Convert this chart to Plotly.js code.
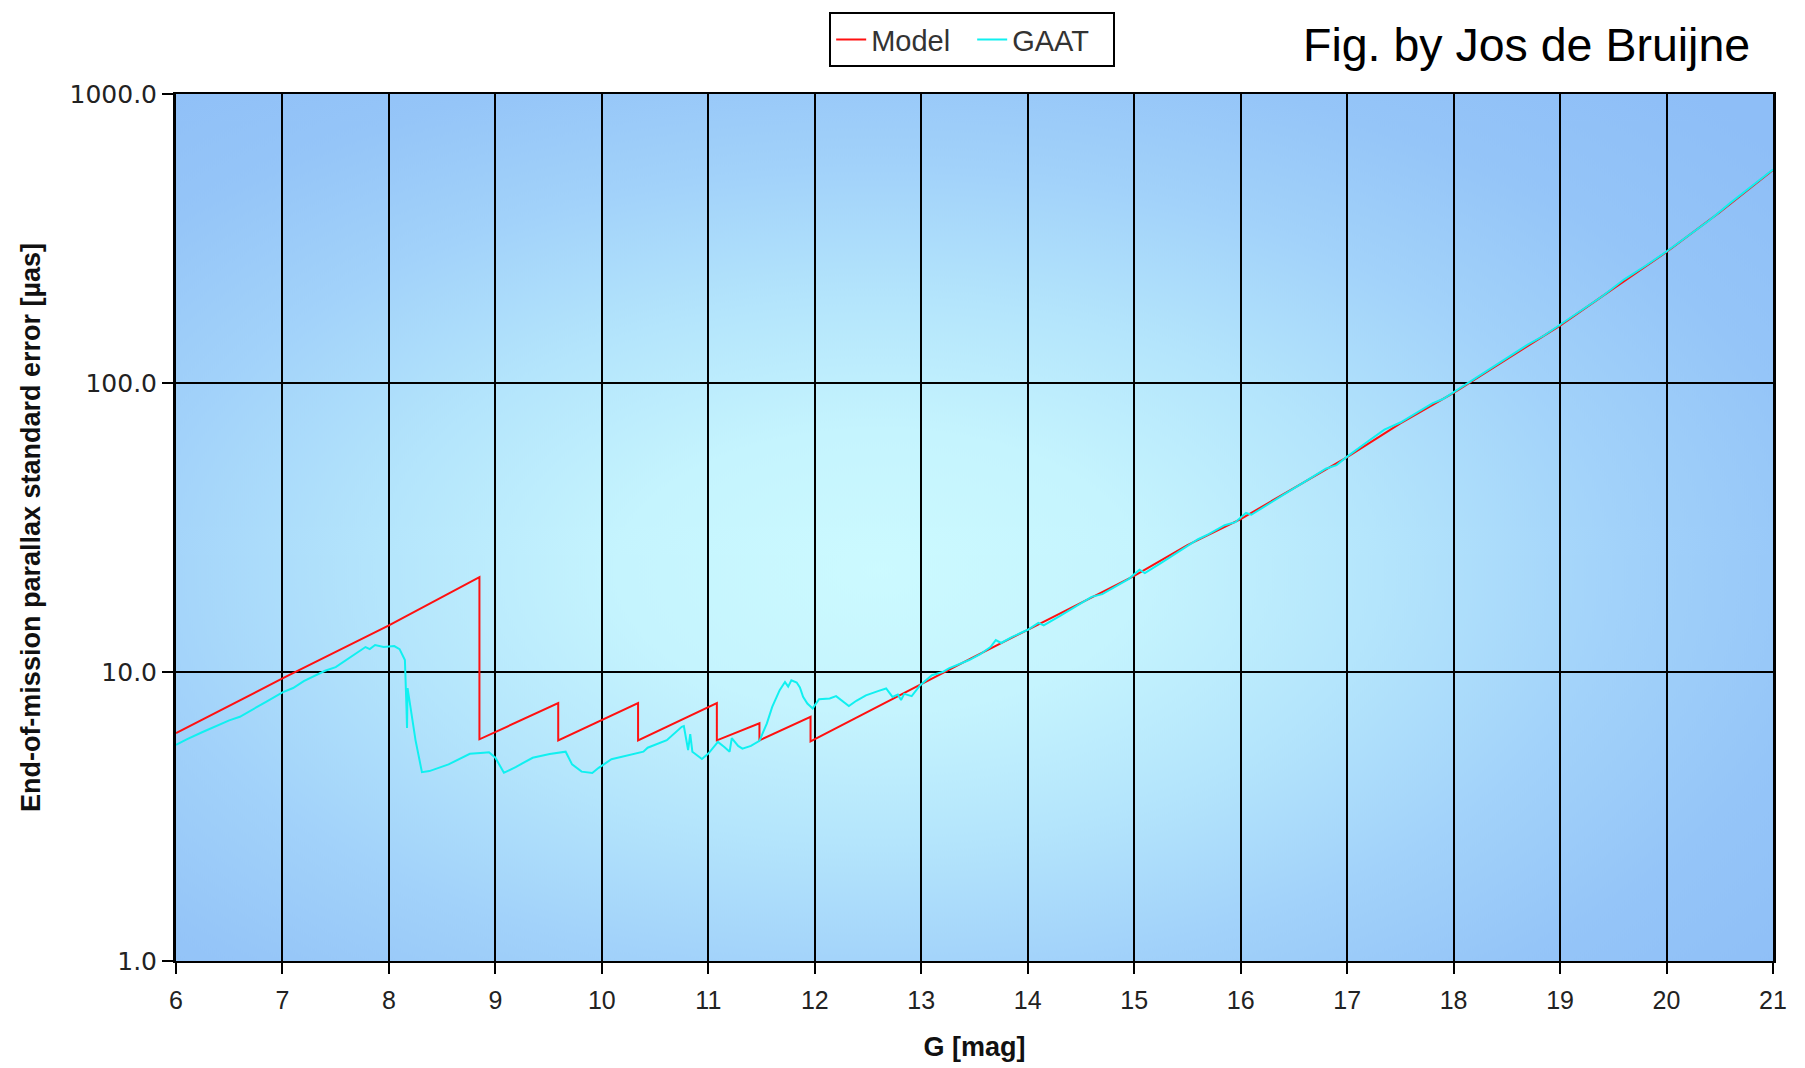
<!DOCTYPE html>
<html>
<head>
<meta charset="utf-8">
<script src="https://cdn.plot.ly/plotly-3.0.1.min.js"></script>
<style>html,body{margin:0;padding:0;background:#fff;}#chart{width:1805px;height:1068px;}</style>
</head>
<body>
<div id="chart"></div>
<script>
// ---- data ----
const modelG = [6.0, 7.0, 8.0, 8.85, 8.85, 9.59, 9.59, 10.34, 10.34, 11.08, 11.08, 11.48, 11.48, 11.96, 11.96, 12.5, 13.0,
  13.5, 14.0, 14.5, 15.0, 15.5, 16.0, 16.5, 17.0, 17.5, 18.0, 18.5, 19.0, 19.5, 20.0, 20.5, 21.0];
const modelSigma = [6.15, 9.5, 14.5, 21.3, 5.85, 7.8, 5.8, 7.8, 5.8, 7.8, 5.8, 6.65, 5.8, 7.0, 5.75, 7.3, 9.1,
  11.3, 14.0, 17.4, 21.5, 27.5, 33.8, 43.3, 55.4, 72.5, 92.5, 121, 158, 212, 284, 390, 546];

const gaatG = [6.0, 6.1, 6.25, 6.4, 6.5, 6.6, 6.75, 6.85, 7.0, 7.1, 7.2, 7.3, 7.4, 7.5, 7.6, 7.7, 7.78, 7.82, 7.87, 7.95, 8.05, 8.1, 8.13,
  8.15, 8.165, 8.17, 8.175, 8.2, 8.25, 8.31, 8.38, 8.56, 8.76, 8.89, 8.94, 9.0, 9.08, 9.19, 9.35, 9.51, 9.66, 9.72, 9.81, 9.91, 9.97,
  10.09, 10.28, 10.39, 10.43, 10.61, 10.75, 10.77, 10.81, 10.83, 10.85, 10.94, 11.0, 11.09, 11.15, 11.2, 11.22, 11.28, 11.32, 11.4, 11.48,
  11.55, 11.6, 11.67, 11.72, 11.75, 11.78, 11.83, 11.86, 11.89, 11.93, 11.98, 12.04, 12.14, 12.2, 12.26, 12.32, 12.39, 12.48, 12.6,
  12.67, 12.73, 12.78, 12.81, 12.84, 12.91, 12.99, 13.1, 13.2, 13.26, 13.35, 13.45, 13.55, 13.65, 13.7, 13.75, 13.85, 14.0, 14.1, 14.15,
  14.3, 14.45, 14.6, 14.7, 14.8, 14.95, 15.05, 15.1, 15.25, 15.4, 15.6, 15.7, 15.85, 15.95, 16.05, 16.1, 16.25, 16.4, 16.6, 16.8, 16.9,
  17.0, 17.2, 17.35, 17.5, 17.65, 17.8, 17.9, 18.0, 18.14, 18.3, 18.5, 18.7, 18.85, 19.0, 19.2, 19.4, 19.6, 19.8, 20.0, 20.2, 20.4,
  20.6, 20.8, 21.0];
const gaatSigma = [5.6, 5.85, 6.2, 6.55, 6.8, 7.0, 7.5, 7.9, 8.5, 8.8, 9.3, 9.7, 10.1, 10.4, 11.0, 11.6, 12.2, 12.0, 12.4, 12.2, 12.3, 12.0, 11.4,
  11.0, 7.5, 6.4, 8.8, 7.6, 5.8, 4.5, 4.54, 4.79, 5.21, 5.26, 5.28, 5.05, 4.48, 4.69, 5.05, 5.2, 5.3, 4.79, 4.52, 4.47, 4.66,
  4.99, 5.2, 5.3, 5.47, 5.81, 6.46, 6.5, 5.37, 6.1, 5.3, 5.0, 5.22, 5.73, 5.5, 5.3, 5.9, 5.55, 5.43, 5.55, 5.78,
  6.64, 7.57, 8.65, 9.23, 8.9, 9.36, 9.2, 8.85, 8.2, 7.78, 7.48, 8.05, 8.1, 8.25, 7.95, 7.62, 7.95, 8.3, 8.6,
  8.77, 8.2, 8.35, 8.0, 8.4, 8.25, 9.0, 9.75, 10.0, 10.3, 10.6, 11.0, 11.5, 12.2, 12.9, 12.6, 13.2, 14.0, 14.8, 14.5,
  15.6, 16.8, 18.2, 18.6, 19.5, 21.0, 22.6, 22.0, 23.8, 25.8, 28.8, 30.0, 32.2, 33.0, 35.5, 35.0, 38.0, 41.0, 45.5, 50.5, 52.0,
  55.6, 63, 69, 73, 79, 85, 88, 93, 100, 109, 122, 136, 146, 159, 178, 200, 228, 254, 285, 323, 365,
  420, 480, 548];

const xTicks = [6,7,8,9,10,11,12,13,14,15,16,17,18,19,20,21];
const yTicks = [1, 10, 100, 1000];
const yTickText = ['1.0', '10.0', '100.0', '1000.0'];

// ---- plot-area background gradient (styling only) ----
const L = 176, R = 32, T = 92, B = 107;
const W = 1805 - L - R, H = 1068 - T - B;
const cv = document.createElement('canvas');
cv.width = W; cv.height = H;
const ctx = cv.getContext('2d');
ctx.setTransform(W / 2, 0, 0, H / 2, 0.44 * W, 0.55 * H);
const g = ctx.createRadialGradient(0, 0, 0, 0, 0, 1.5);
g.addColorStop(0.0, '#ccfaff');
g.addColorStop(0.22, '#c5f4fe');
g.addColorStop(0.42, '#b4e5fc');
g.addColorStop(0.62, '#a2d2fa');
g.addColorStop(0.8, '#95c5f8');
g.addColorStop(1.0, '#8ebef7');
ctx.fillStyle = g;
ctx.fillRect(-5, -5, 10, 10);
const bgURL = cv.toDataURL('image/png');

const traces = [
  { x: modelG, y: modelSigma, type: 'scatter', mode: 'lines', name: 'Model',
    line: { color: '#ff1010', width: 2 } },
  { x: gaatG, y: gaatSigma, type: 'scatter', mode: 'lines', name: 'GAAT',
    line: { color: '#10f0f0', width: 2 } }
];

const layout = {
  width: 1805, height: 1068,
  margin: { l: L, r: R, t: T, b: B },
  paper_bgcolor: '#ffffff',
  plot_bgcolor: 'rgba(0,0,0,0)',
  font: { family: 'Liberation Sans, Arial, sans-serif', color: '#111' },
  showlegend: true,
  legend: {
    orientation: 'h', x: 0.409, y: 1.0945, xanchor: 'left', yanchor: 'top',
    bgcolor: '#ffffff', bordercolor: '#000', borderwidth: 2,
    font: { size: 29, color: '#333' }, itemwidth: 30, entrywidth: 96, tracegroupgap: 0
  },
  images: [{ source: bgURL, xref: 'paper', yref: 'paper', x: 0, y: 1, sizex: 1, sizey: 1,
    xanchor: 'left', yanchor: 'top', sizing: 'stretch', layer: 'below' }],
  xaxis: {
    range: [6, 21], tickvals: xTicks, ticktext: xTicks.map(String),
    showgrid: true, gridcolor: '#000', gridwidth: 2,
    showline: true, linecolor: '#000', linewidth: 2, mirror: true,
    ticks: 'outside', ticklen: 11, tickwidth: 2, tickcolor: '#000',
    tickfont: { size: 25, color: '#222' }, ticklabelstandoff: 5, zeroline: false,
    title: { text: '<b>G [mag]</b>', font: { size: 27, color: '#111' }, standoff: 24 }
  },
  yaxis: {
    type: 'log', range: [0, 3], tickvals: yTicks, ticktext: yTickText,
    showgrid: true, gridcolor: '#000', gridwidth: 2,
    showline: true, linecolor: '#000', linewidth: 3, mirror: true,
    ticks: 'outside', ticklen: 11, tickwidth: 2, tickcolor: '#000',
    tickfont: { size: 25, color: '#222', family: 'DejaVu Sans, sans-serif' }, zeroline: false,
    title: { text: '<b>End-of-mission parallax standard error [µas]</b>', font: { size: 27, color: '#111' }, standoff: 22 }
  },
  annotations: [{
    text: 'Fig. by Jos de Bruijne', xref: 'paper', yref: 'paper',
    x: 0.9868, y: 1.056, xanchor: 'right', yanchor: 'middle', showarrow: false,
    font: { size: 46.5, color: '#000', family: 'Liberation Sans, Arial, sans-serif' }
  }]
};

Plotly.newPlot('chart', traces, layout, { displayModeBar: false, staticPlot: true });
</script>
</body>
</html>
